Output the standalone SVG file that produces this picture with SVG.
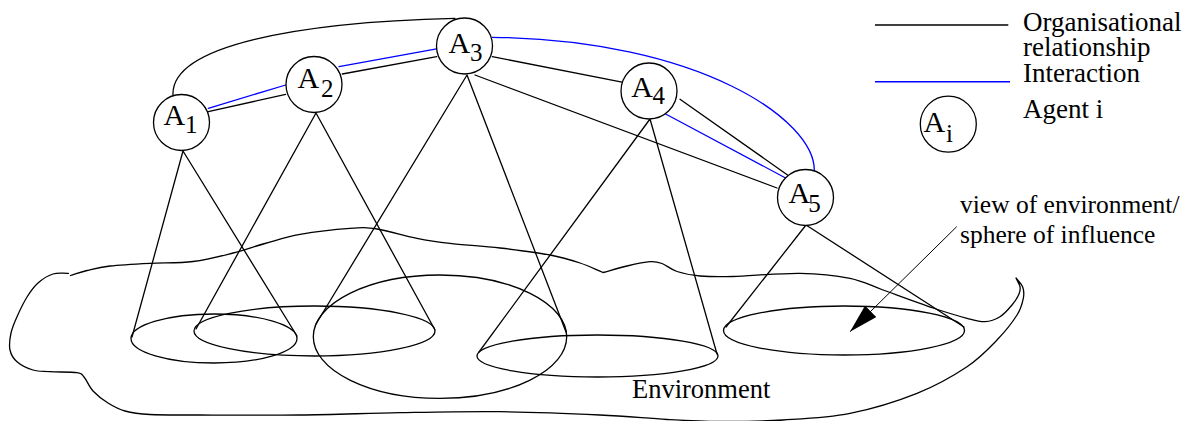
<svg xmlns="http://www.w3.org/2000/svg" width="1190" height="421" viewBox="0 0 1190 421">
<style>
.ln{fill:none;stroke:#000;stroke-width:1.3;stroke-linecap:round;stroke-linejoin:round}
.bl{fill:none;stroke:#0000ff;stroke-width:1.3;stroke-linecap:round}
.ag{fill:#fff;stroke:#000;stroke-width:1.3}
.t{font-family:"Liberation Serif","Times New Roman",serif;fill:#000}
.big{font-size:30px}
.sub{font-size:25px}
.lab{font-size:27px}
.ann{font-size:25.5px}
</style>
<defs>
<marker id="ah" markerUnits="userSpaceOnUse" viewBox="0 0 29 16" refX="29" refY="8" markerWidth="29" markerHeight="16" orient="auto">
<path d="M0,0 L29,8 L0,16 z" fill="#000"/>
</marker>
</defs>
<rect width="1190" height="421" fill="#fff"/>

<g id="environment">
<path class="ln" d="M70.5,275.5 C76,273.8 80.4,272.1 87,270.5 S99.5,267.2 110,266 S136.2,264 150,263.3 S179.2,263.2 193,261.5 S221,256 233,253 S253.8,246.6 265,243.5 S285.8,236.8 300,234.3 S337.2,229.2 350,228.3 S365.8,227.3 377,229 S404.8,235.9 417,238.3 S436.2,241.7 450,243.3 S483.3,246 500,248 S536.7,252.5 550,255 S571.2,260.1 580,263 S595.3,269.3 603,272.5 C611,270.3 619.2,267.8 627,266 S644.2,262.1 650,261.7 S657.5,261.9 662,263.5 S670.7,269.4 677,271.5 S690.7,275.2 700,276 S716.3,277 733,276.5 S780.5,273 800,273.3 S836.2,275.5 850,278.3 S869.2,285 883,290 S919,303.3 933,308 S958.3,316 967,318.3 S979.5,322 985,321.7 S995.5,319.5 1000,316.7 S1008.8,308.8 1012,305 S1017.7,297 1019,294 S1020.5,289.4 1020,286.7 S1017.3,280.9 1016,278 C1018.2,281 1021.5,283.6 1022.7,287 S1024.3,293.6 1023.3,298.3 S1021.4,308 1017,315 S1005.3,331.4 997,340 S980.3,357.8 967,366.7 S936.5,385.5 917,393.3 S872.3,408.9 850,413.3 S804.7,418.6 783,420 S739.3,421.6 720,421.5 S687,420.6 667,419.5 S627.8,416.3 600,415 S533.3,412.1 500,411.7 S433.3,412.1 400,412.7 S333.3,414.6 300,415 S225,415.1 200,415 S162.5,415.2 150,414.5 S132,412.9 125,411 S113.3,406.3 108,403 S97,395.3 93,391 S86.7,380 84,377 S82.7,373.6 77,372.7 S57.3,372.2 50,371.7 S38.5,371.7 33,370 S20.8,365 17,361.7 S11,354.8 10,350 S9.8,338.6 11,333 S14.3,322.7 17,316.7 S23.5,302.6 27,297 S33.7,286.8 38,283 S47.9,275.6 53,274 S63.3,273.5 68.5,273.3"/>
<text class="t" x="632" y="398" style="font-size:26.5px">Environment</text>
</g>

<g id="views">
<ellipse class="ln" cx="214" cy="338.5" rx="83" ry="24.5"/>
<ellipse class="ln" cx="314.5" cy="331" rx="120.5" ry="25"/>
<ellipse class="ln" cx="440" cy="336.7" rx="126.7" ry="61.7"/>
<ellipse class="ln" cx="597.5" cy="356" rx="120.5" ry="21"/>
<ellipse class="ln" cx="844" cy="330.5" rx="120.5" ry="24.5"/>
</g>

<g id="connectors">
<path class="ln" d="M183,151 L132,337 M183,151 L297,336"/>
<path class="ln" d="M316,113 L196,329 M316,113 L435,330"/>
<path class="ln" d="M467,75 L316,324 M467,75 L566,332"/>
<path class="ln" d="M650,119 L479,352 M650,119 L717,354"/>
<path class="ln" d="M806,225 L726,327 M806,225 L964,327"/>
<path class="ln" d="M173,95.5 C170,45 300,22 455,18.3"/>
<path class="ln" d="M208.3,111.7 L285.7,94.3"/>
<path class="bl" d="M208.3,108.3 L285.7,85"/>
<path class="ln" d="M342.3,74 L436.7,56.7"/>
<path class="bl" d="M339,66.7 L439.3,48.3"/>
<path class="ln" d="M492.3,56.7 L623.3,82.3"/>
<path class="ln" d="M475,75 L777,188"/>
<path class="ln" d="M680,99.3 L790,176.7"/>
<path class="bl" d="M663.3,112.7 L790.7,180.7"/>
<path class="bl" d="M492.3,37.3 C700,40 815,120 814.3,170.5"/>
<line x1="956.7" y1="226.7" x2="850" y2="331.7" stroke="#000" stroke-width="1" marker-end="url(#ah)"/>
</g>

<g id="A1"><circle class="ag" cx="181.5" cy="122.5" r="28"/><text class="t big" x="163.5" y="125">A<tspan class="sub" x="185" y="133">1</tspan></text></g>
<g id="A2"><circle class="ag" cx="314" cy="84.5" r="28"/><text class="t big" x="297.5" y="88">A<tspan class="sub" x="321" y="97">2</tspan></text></g>
<g id="A3"><circle class="ag" cx="464.5" cy="46" r="28"/><text class="t big" x="448.5" y="53">A<tspan class="sub" x="470" y="61">3</tspan></text></g>
<g id="A4"><circle class="ag" cx="649" cy="91" r="28"/><text class="t big" x="631.2" y="97">A<tspan class="sub" x="652.5" y="104">4</tspan></text></g>
<g id="A5"><circle class="ag" cx="805.5" cy="197.5" r="28"/><text class="t big" x="788.5" y="203">A<tspan class="sub" x="808.3" y="211.5">5</tspan></text></g>

<g id="annotation">
<text class="t ann" x="960" y="213">view of environment/</text>
<text class="t ann" x="960" y="243">sphere of influence</text>
</g>

<g id="legend">
<line x1="875" y1="25" x2="1008.3" y2="25" stroke="#000" stroke-width="1.5"/>
<line x1="875" y1="81.7" x2="1010" y2="81.7" stroke="#0000ff" stroke-width="1.5"/>
<text class="t lab" x="1023" y="31">Organisational</text>
<text class="t lab" x="1023" y="55.5">relationship</text>
<text class="t lab" x="1023" y="81.5">Interaction</text>
<text class="t lab" x="1023" y="118">Agent i</text>
<circle class="ag" cx="948.3" cy="124.2" r="28"/>
<text class="t big" x="923.5" y="131.7">A<tspan class="sub" x="946" y="141.7">i</tspan></text>
</g>
</svg>
